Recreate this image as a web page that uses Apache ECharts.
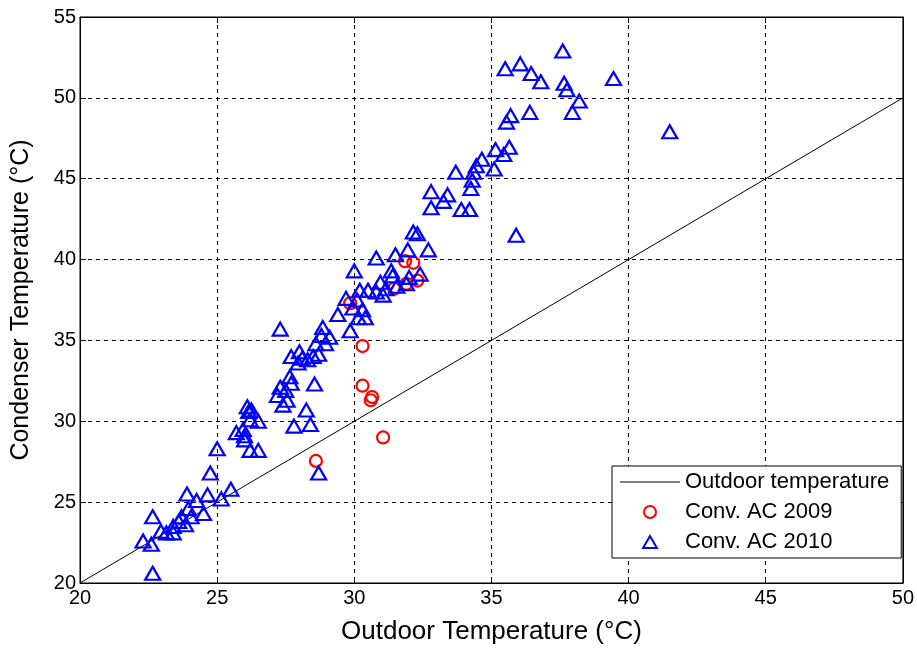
<!DOCTYPE html>
<html>
<head>
<meta charset="utf-8">
<script src="https://cdn.jsdelivr.net/npm/echarts@6/dist/echarts.min.js"></script>
<style>
  html, body { margin: 0; padding: 0; background: #fff; }
  #chart { width: 917px; height: 653px; }
</style>
</head>
<body>
<div id="chart"></div>
<script>
// Outdoor temperature reference line (y = x)
var outdoorLine = [[20, 20], [50, 50]];

// Conv. AC 2009 (red circles)
var ac2009 = [
    [28.6, 27.55], [31.05, 29.0], [30.3, 32.2], [30.3, 34.65], [30.65, 31.5],
    [30.6, 31.3], [29.85, 37.3], [31.45, 38.2], [31.85, 39.9], [32.15, 39.8],
    [32.3, 38.7], [31.9, 38.5]
];

// Conv. AC 2010 (blue triangles)
var ac2010 = [
    [37.6, 52.9], [35.5, 51.8], [36.05, 52.1], [36.45, 51.5], [36.8, 51.0],
    [37.65, 50.9], [37.75, 50.5], [39.45, 51.2], [38.2, 49.8], [37.95, 49.1],
    [35.7, 48.9], [35.55, 48.5], [36.4, 49.1], [41.5, 47.9], [35.15, 46.8],
    [35.65, 46.95], [35.45, 46.5], [35.1, 45.6], [34.65, 46.2], [34.45, 45.8],
    [34.35, 45.4], [33.7, 45.4], [34.3, 44.9], [34.25, 44.4], [32.8, 44.2],
    [33.4, 44.0], [33.25, 43.6], [32.8, 43.2], [33.9, 43.1], [34.2, 43.1],
    [35.9, 41.5], [32.15, 41.7], [32.3, 41.6], [31.95, 40.6], [32.7, 40.6],
    [32.4, 39.1],
    [31.5, 40.3], [30.8, 40.1], [30.0, 39.3], [31.35, 39.3], [31.4, 39.0],
    [32.0, 38.9], [30.95, 38.6], [31.9, 38.5], [31.55, 38.35], [31.15, 38.2],
    [30.5, 38.1], [30.2, 38.1], [30.8, 38.0], [31.05, 37.8], [29.7, 37.6],
    [30.1, 37.5], [29.95, 37.0], [30.3, 36.9], [29.4, 36.6], [30.15, 36.4],
    [30.4, 36.4], [28.85, 35.8], [29.85, 35.6], [29.1, 35.2], [27.3, 35.7],
    [28.8, 35.3], [28.95, 34.8], [28.6, 34.8], [28.0, 34.3], [27.7, 34.0],
    [28.1, 33.9], [28.7, 34.15], [28.5, 34.0], [28.3, 33.8], [27.95, 33.6],
    [27.65, 32.75], [27.7, 32.35], [28.55, 32.3], [27.3, 32.1], [27.5, 31.9],
    [27.2, 31.6], [27.55, 31.3], [27.4, 31.0], [28.25, 30.7], [27.8, 29.7],
    [28.4, 29.8], [28.7, 26.8],
    [26.1, 30.9], [26.15, 30.6], [26.25, 30.7], [26.5, 30.0], [26.2, 30.1],
    [25.95, 29.5], [25.7, 29.3], [26.0, 29.1], [26.0, 28.85], [26.2, 28.2],
    [26.5, 28.2], [25.0, 28.3], [24.75, 26.8], [25.5, 25.8], [25.15, 25.2],
    [24.65, 25.45], [23.9, 25.5], [24.25, 25.1], [23.95, 24.6], [24.5, 24.3],
    [23.7, 24.1], [24.05, 24.1], [23.6, 23.8], [23.85, 23.6], [23.4, 23.5],
    [22.95, 23.2], [23.15, 23.1], [23.4, 23.1], [22.3, 22.6], [22.6, 22.4],
    [22.65, 24.1], [22.65, 20.6]
];

var seriesNames = ['Outdoor temperature', 'Conv. AC 2009', 'Conv. AC 2010'];

var chart = echarts.init(document.getElementById('chart'));

var arial = 'Liberation Sans, Arial, sans-serif';

var tickLabel = { fontFamily: arial, fontSize: 20, color: '#000' };

var dashedGrid = {
    show: true,
    lineStyle: { color: '#000', type: [4, 4], width: 1 }
};

// plain frame axes on top / right, ticks only
var frameAxis = function (pos, min, max) {
    return {
        type: 'value', position: pos, min: min, max: max, interval: 5,
        axisLine: { show: true, lineStyle: { color: '#000' } },
        axisTick: { show: true, inside: true, length: 6, lineStyle: { color: '#000' } },
        axisLabel: { show: false },
        splitLine: { show: false }
    };
};

var option = {
    animation: false,
    backgroundColor: '#fff',
    grid: {
        left: 80, right: 14, top: 17, bottom: 70,
        show: true, borderColor: '#000', borderWidth: 1
    },
    legend: {
        orient: 'vertical',
        left: 612, top: 466,
        backgroundColor: '#fff',
        borderColor: '#000',
        borderWidth: 1,
        borderRadius: 0,
        padding: [5, 12, 5, 8],
        itemGap: 8,
        itemWidth: 60,
        itemHeight: 12,
        textStyle: { fontFamily: arial, fontSize: 22, color: '#000' },
        data: [
            { name: seriesNames[0], icon: 'path://M0,0L60,0L60,1L0,1Z' },
            { name: seriesNames[1], icon: 'circle' },
            { name: seriesNames[2], icon: 'path://M0,13L7.5,0L15,13Z' }
        ]
    },
    xAxis: [{
        type: 'value',
        min: 20, max: 50, interval: 5,
        name: 'Outdoor Temperature (°C)',
        nameLocation: 'middle',
        nameGap: 36,
        nameTextStyle: { fontFamily: arial, fontSize: 26, color: '#000' },
        axisLine: { lineStyle: { color: '#000', width: 1 } },
        axisTick: { inside: true, length: 6, lineStyle: { color: '#000' } },
        axisLabel: Object.assign({ margin: 5 }, tickLabel),
        splitLine: dashedGrid
    }, frameAxis('top', 20, 50)],
    yAxis: [{
        type: 'value',
        min: 20, max: 55, interval: 5,
        name: 'Condenser Temperature (°C)',
        nameLocation: 'middle',
        nameGap: 46,
        nameTextStyle: { fontFamily: arial, fontSize: 25, color: '#000' },
        axisLine: { lineStyle: { color: '#000', width: 1 } },
        axisTick: { inside: true, length: 6, lineStyle: { color: '#000' } },
        axisLabel: Object.assign({ margin: 4 }, tickLabel),
        splitLine: dashedGrid
    }, frameAxis('right', 20, 55)],
    series: [
        {
            name: seriesNames[0],
            type: 'line',
            data: outdoorLine,
            symbol: 'none',
            lineStyle: { color: '#000', width: 1 },
            itemStyle: { color: '#000' },
            z: 1
        },
        {
            name: seriesNames[1],
            type: 'scatter',
            data: ac2009,
            symbol: 'circle',
            symbolSize: 12,
            itemStyle: { color: 'rgba(0,0,0,0)', borderColor: '#ff0000', borderWidth: 2.2, opacity: 1 },
            z: 3
        },
        {
            name: seriesNames[2],
            type: 'scatter',
            data: ac2010,
            symbol: 'triangle',
            symbolSize: [15, 13],
            itemStyle: { color: 'rgba(0,0,0,0)', borderColor: '#0000ff', borderWidth: 2.2, opacity: 1 },
            z: 4
        }
    ]
};

chart.setOption(option);
</script>
</body>
</html>
